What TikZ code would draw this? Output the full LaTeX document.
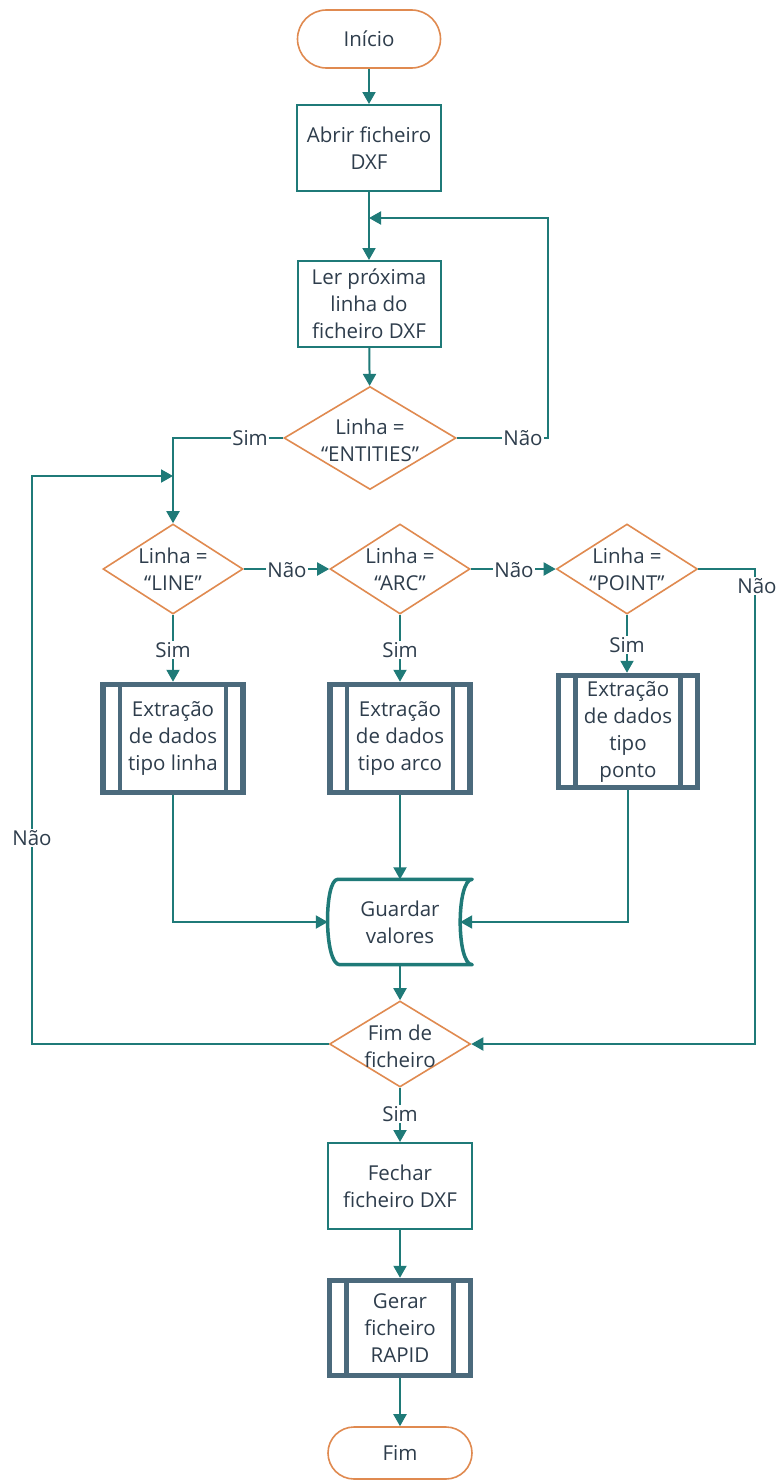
\documentclass[tikz,border=0pt]{standalone}
\usepackage{fontspec}
\setmainfont{Open Sans}
\usetikzlibrary{arrows.meta,shapes.geometric,shapes.misc,calc}
\definecolor{teal1}{HTML}{1F7A78}
\definecolor{orng}{HTML}{E08A50}
\definecolor{slate}{HTML}{4B6A7C}
\definecolor{txt}{HTML}{2E3D4C}
\begin{document}
\begin{tikzpicture}[x=1pt,y=-1pt,
  every node/.style={font=\fontsize{20.5}{27}\selectfont, text=txt, align=center},
  ln/.style={draw=teal1, line width=2pt},
  arr/.style={ln, -{Triangle[length=12pt,width=13pt]}},
  term/.style={rounded rectangle, draw=orng, line width=1.6pt, inner sep=0pt},
  procbox/.style={rectangle, draw=teal1, line width=2pt, inner sep=0pt},
  dec/.style={diamond, draw=orng, line width=1.6pt, inner sep=0pt},
  predef/.style={rectangle, draw=slate, line width=5.5pt, inner sep=0pt,
    path picture={\draw[slate, line width=4.5pt]
      ([xshift=17pt]path picture bounding box.north west) -- ([xshift=17pt]path picture bounding box.south west)
      ([xshift=-17pt]path picture bounding box.north east) -- ([xshift=-17pt]path picture bounding box.south east);}},
  lbl/.style={fill=white, inner sep=1.5pt}]
\fill[white] (0,0) rectangle (777,1480);
\useasboundingbox (0,0) rectangle (777,1480);

% nodes
\node[term, minimum width=143pt, minimum height=58pt] (ini) at (369,39) {Início};
\node[procbox, minimum width=144pt, minimum height=86pt] (abr) at (369,148) {Abrir ficheiro\\DXF};
\node[procbox, minimum width=143pt, minimum height=86pt] (ler) at (369,304) {Ler próxima\\linha do\\ficheiro DXF};
\node[dec, minimum width=172pt, minimum height=103pt] (e1) at (370,438) {};
\node (e1t) at (370,440) {Linha =\\“ENTITIES”};

\node[dec, minimum width=140pt, minimum height=90pt] (dl) at (173,569) {};
\node (dlt) at (173,569) {Linha =\\“LINE”};
\node[dec, minimum width=140pt, minimum height=90pt] (da) at (400,569) {};
\node (dat) at (400,569) {Linha =\\“ARC”};
\node[dec, minimum width=141pt, minimum height=90pt] (dp) at (627,569) {};
\node (dpt) at (627,569) {Linha =\\“POINT”};

\node[predef, minimum width=140pt, minimum height=108pt] (bl) at (173,738.5) {Extração\\de dados\\tipo linha};
\node[predef, minimum width=140pt, minimum height=108pt] (ba) at (400,738.5) {Extração\\de dados\\tipo arco};
\node[predef, minimum width=139pt, minimum height=112pt] (bp) at (628,731.5) {Extração\\de dados\\tipo\\ponto};

\node[minimum width=134pt, minimum height=85pt, inner sep=0pt] (gv) at (400,922) {Guardar\\valores};
\coordinate (gvL) at ($(gv.west)+(-5,0)$);
\coordinate (gvR) at ($(gv.east)+(-7,0)$);
\draw[teal1, line width=3.5pt, line join=round]
  ($(gv.north west)+(5,0)$) -- ($(gv.north east)+(5,0)$)
  .. controls ($(gv.north east)+(-11,0)$) and ($(gv.south east)+(-11,0)$) .. ($(gv.south east)+(5,0)$)
  -- ($(gv.south west)+(7,0)$)
  .. controls ($(gv.south west)+(-9,0)$) and ($(gv.north west)+(-9,0)$) .. cycle;

\node[dec, minimum width=141pt, minimum height=86pt] (ff) at (400,1044) {};
\node (fft) at (400,1046) {Fim de\\ficheiro};

\node[procbox, minimum width=144pt, minimum height=86pt] (fe) at (400,1186) {Fechar\\ficheiro DXF};
\node[predef, minimum width=141pt, minimum height=95pt] (ge) at (400,1328) {Gerar\\ficheiro\\RAPID};
\node[term, minimum width=144pt, minimum height=52pt] (fim) at (400,1453) {Fim};

% helper coordinates
\coordinate (jn) at (369,218);
\coordinate (xr) at (548,438);
\coordinate (jl) at (173,476);
\coordinate (xl) at (32,1044);
\coordinate (xr2) at (755,1044);

% connectors
\draw[arr] (ini) -- (abr);
\draw[arr] (abr) -- (ler);
\draw[arr] (ler) -- (e1);
\draw[arr] (e1.east) -- (xr) |- (jn);
\draw[arr] (e1.west) -| (dl.north);
\draw[arr] (ff.west) -- (xl) |- (jl);
\draw[arr] (dl.east) -- (da.west);
\draw[arr] (da.east) -- (dp.west);
\draw[arr] (dp.east) -| (xr2) -- (ff.east);
\draw[arr] (dl.south) -- (bl.north);
\draw[arr] (da.south) -- (ba.north);
\draw[arr] (dp.south) -- (dp.south |- bp.north);
\draw[arr] (bl.south) |- (gvL);
\draw[arr] (ba.south) -- (gv.north);
\draw[arr] (bp.south) |- (gvR);
\draw[arr] (gv.south) -- (ff.north);
\draw[arr] (ff.south) -- (fe.north);
\draw[arr] (fe) -- (ge);
\draw[arr] (ge) -- (fim);

% labels
\node[lbl] (l1) at (250,438) {Sim};
\node[lbl] (l2) at (523,438) {Não};
\node[lbl] (l3) at (287,570) {Não};
\node[lbl] (l4) at (514,570) {Não};
\node[lbl] (l5) at (757,586) {Não};
\node[lbl] (l6) at (173,650) {Sim};
\node[lbl] (l7) at (400,650) {Sim};
\node[lbl] (l8) at (627,645) {Sim};
\node[lbl] (l9) at (32,838) {Não};
\node[lbl] (l10) at (400,1114) {Sim};
\end{tikzpicture}
\end{document}
